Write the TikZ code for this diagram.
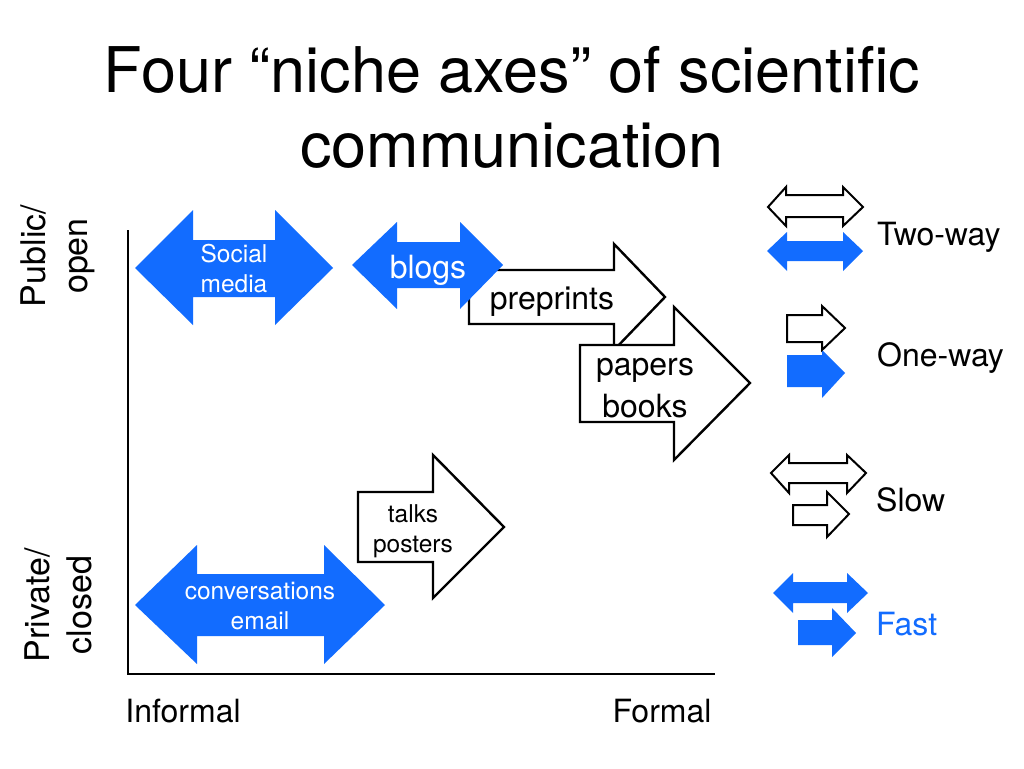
\documentclass[tikz,border=0pt]{standalone}
\usepackage{fontspec}
\setmainfont{TeX Gyre Heros}
\definecolor{arrowblue}{RGB}{18,108,255}
\begin{document}
\begin{tikzpicture}[x=1pt,y=-1pt,
  bluearrow/.style={fill=arrowblue,draw=none},
  whitearrow/.style={fill=white,draw=black,line width=2.4pt,line join=miter},
  axisline/.style={draw=black,line width=2.8pt},
  big/.style={font=\fontsize{32}{42}\selectfont,inner sep=0pt,align=center},
  mid/.style={font=\fontsize{24.5}{30}\selectfont,inner sep=0pt,align=center},
  side/.style={font=\fontsize{34}{42}\selectfont,rotate=90,align=center,inner sep=0pt},
  ttl/.style={font=\fontsize{63}{75}\selectfont,inner sep=0pt,anchor=base}]
\useasboundingbox[fill=white] (0,0) rectangle (1024,768);
% title
\node[ttl] (t1) at (512,92) {Four “niche axes” of scientific};
\node[ttl] (t2) at (512,167) {communication};
% axes
\coordinate (ytop) at (128,230);
\coordinate (orig) at (128,674);
\coordinate (xend) at (715,674);
\draw[axisline] (ytop) -- (orig) -- (xend);
\node[side] (pub) at (58,256) {Public/\\open};
\node[side] (priv) at (58,605) {Private/\\closed};
\node[big] (inf) at (183,711) {Informal};
\node[big] (form) at (662,711) {Formal};
% social media
\fill[bluearrow] (135,268) -- (193,210) -- (193,240) -- (275,240) -- (275,210) -- (333,268) -- (275,325) -- (275,297) -- (193,297) -- (193,325) -- cycle;
\node[mid,text=white] (soc) at (234,269) {Social\\media};
% preprints
\draw[whitearrow] (469,270) -- (614,270) -- (614,244) -- (665,297) -- (614,350) -- (614,324) -- (469,324) -- cycle;
\node[big] (pre) at (552,302) {preprints};
% blogs
\fill[bluearrow] (352,265) -- (397,222) -- (397,242) -- (460,242) -- (460,222) -- (503,265) -- (460,309) -- (460,288) -- (397,288) -- (397,309) -- cycle;
\node[big,text=white] (blg) at (428,270) {blogs};
% papers books
\draw[whitearrow] (580,345) -- (674,345) -- (674,307) -- (750,383) -- (674,460) -- (674,422) -- (580,422) -- cycle;
\node[big] (pap) at (645,388) {papers\\books};
% talks posters
\draw[whitearrow] (358,492) -- (433,492) -- (433,455) -- (504,527) -- (433,598) -- (433,562) -- (358,562) -- cycle;
\node[mid] (tlk) at (413,531) {talks\\posters};
% conversations
\fill[bluearrow] (135,605) -- (197,545) -- (197,574) -- (324,574) -- (324,545) -- (385,605) -- (324,664) -- (324,636) -- (197,636) -- (197,664) -- cycle;
\node[mid,text=white] (conv) at (260,606) {conversations\\email};
% legend: two-way
\draw[whitearrow,line width=2pt] (768,207) -- (786,187) -- (786,195) -- (843,195) -- (843,187) -- (863,207) -- (843,226) -- (843,217) -- (786,217) -- (786,226) -- cycle;
\fill[bluearrow] (767,251) -- (787,232) -- (787,241) -- (843,241) -- (843,232) -- (863,251) -- (843,271) -- (843,261) -- (787,261) -- (787,271) -- cycle;
\node[big,anchor=west] (lg1) at (877,237) {Two-way};
% one-way
\fill[bluearrow] (787,355) -- (822,355) -- (822,350) -- (845,373) -- (822,398) -- (822,387) -- (787,387) -- cycle;
\draw[whitearrow,line width=2pt] (787,315) -- (822,315) -- (822,306) -- (845,328) -- (822,350) -- (822,342) -- (787,342) -- cycle;
\node[big,anchor=west] (lg2) at (877,358) {One-way};
% slow
\draw[whitearrow,line width=2pt] (771,473) -- (789,455) -- (789,463) -- (847,463) -- (847,455) -- (866,473) -- (847,493) -- (847,483) -- (789,483) -- (789,493) -- cycle;
\draw[whitearrow,line width=2pt] (793,505) -- (827,505) -- (827,492) -- (849,514) -- (827,537) -- (827,525) -- (793,525) -- cycle;
\node[big,anchor=west] (lg3) at (876,500) {Slow};
% fast
\fill[bluearrow] (773,593) -- (793,573) -- (793,582) -- (847,582) -- (847,573) -- (868,593) -- (847,613) -- (847,603) -- (793,603) -- (793,613) -- cycle;
\fill[bluearrow] (798,620) -- (832,620) -- (832,608) -- (856,633) -- (832,657) -- (832,645) -- (798,645) -- cycle;
\node[big,anchor=west,text=arrowblue] (lg4) at (876,624) {Fast};
\end{tikzpicture}
\end{document}
